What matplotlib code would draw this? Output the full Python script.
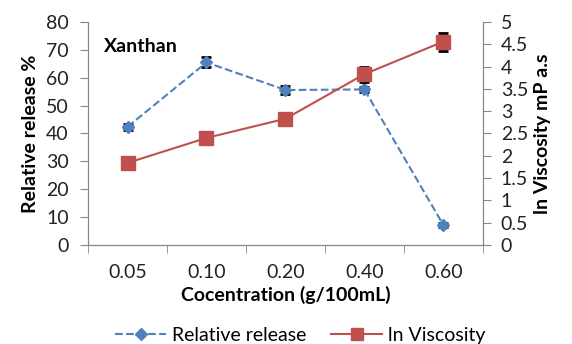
import numpy as np
import matplotlib.pyplot as plt
from matplotlib.ticker import FixedLocator, NullFormatter

plt.rcParams['font.family'] = ['Lato', 'DejaVu Sans']

# ─── Data ──────────────────────────────────────────────────────────────────────
concentrations = ["0.05", "0.10", "0.20", "0.40", "0.60"]
relative_release = [42.4, 65.5, 55.6, 55.8, 7.2]
release_err = [1.0, 1.8, 1.3, 1.0, 0.8]
ln_viscosity = [1.84, 2.40, 2.83, 3.83, 4.56]
visc_err = [0.03, 0.07, 0.12, 0.17, 0.20]

blue = "#4F81BD"
red = "#C0504D"
grey = "#868686"
fs = 14

fig = plt.figure(figsize=(5.72, 3.44), dpi=100)
ax = fig.add_axes([0.154, 0.288, 0.690, 0.648])
ax2 = ax.twinx()

x = np.arange(len(concentrations))

# Relative release (left axis)
ax.errorbar(x, relative_release, yerr=release_err, fmt="none", ecolor="black",
            elinewidth=1.3, capsize=3.5, capthick=2, zorder=2)
ax.plot(x, relative_release, color=blue, ls="--", lw=1.5, marker="D", ms=6.5,
        mfc=blue, mec=blue, zorder=3)

# ln viscosity (right axis)
ax2.errorbar(x, ln_viscosity, yerr=visc_err, fmt="none", ecolor="black",
             elinewidth=1.3, capsize=3.5, capthick=2, zorder=2)
ax2.plot(x, ln_viscosity, color=red, ls="-", lw=1.5, marker="s", ms=10,
         mfc=red, mec=red, zorder=3)

ax.set_xlim(-0.5, len(concentrations) - 0.5)
ax.set_ylim(0, 80)
ax.set_yticks(np.arange(0, 81, 10))
ax2.set_ylim(0, 5)
ax2.set_yticks(np.arange(0, 5.01, 0.5))
ax2.set_yticklabels(["0", "0.5", "1", "1.5", "2", "2.5", "3", "3.5", "4", "4.5", "5"])

ax.set_xticks(x)
ax.set_xticklabels(concentrations)
ax.xaxis.set_minor_locator(FixedLocator(np.arange(-0.5, len(concentrations), 1.0)))
ax.xaxis.set_minor_formatter(NullFormatter())
ax.tick_params(axis="x", which="major", length=0, pad=14, labelsize=fs, colors="#222222")
ax.tick_params(axis="x", which="minor", length=6, color=grey, direction="out")
ax.tick_params(axis="y", length=6, pad=8, color=grey, labelsize=fs, labelcolor="#222222")
ax2.tick_params(axis="y", length=6, pad=7, color=grey, labelsize=fs, labelcolor="#222222")

for a in (ax, ax2):
    a.spines["top"].set_visible(False)
    for s in ("left", "right", "bottom"):
        a.spines[s].set_color(grey)

ax.set_ylabel("Relative release %", fontsize=fs, fontweight="bold", labelpad=5)
ax2.set_ylabel("ln Viscosity mP a.s", fontsize=fs, fontweight="bold", labelpad=4)
ax.set_xlabel("Cocentration (g/100mL)", fontsize=fs, fontweight="bold", labelpad=3)

ax.text(0.04, 0.93, "Xanthan", transform=ax.transAxes, fontsize=fs,
        fontweight="bold", va="top")

# Legend at bottom
h1 = plt.Line2D([], [], color=blue, ls="--", lw=1.5, marker="D", ms=6)
h2 = plt.Line2D([], [], color=red, ls="-", lw=1.5, marker="s", ms=9)
fig.legend([h1, h2], ["Relative release", "ln Viscosity"], loc="lower center",
           bbox_to_anchor=(0.525, -0.05), ncol=2, frameon=False, fontsize=fs,
           handlelength=2.6, columnspacing=1.3, handletextpad=0.3)

fig.savefig("out.png", dpi=100)
